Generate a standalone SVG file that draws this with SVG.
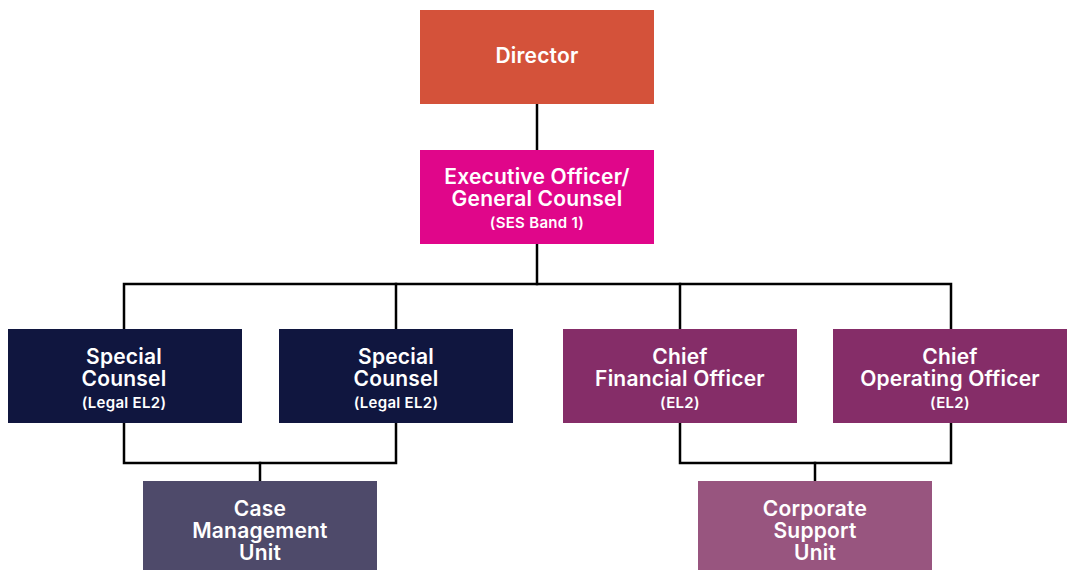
<svg xmlns="http://www.w3.org/2000/svg" width="1067" height="570" viewBox="0 0 1067 570">
  <style>
    .box { stroke: none; }
    .t { font-family: Inter, "Noto Sans", "Liberation Sans", sans-serif; font-weight: 600; fill: #ffffff; text-anchor: middle; }
    .big { font-size: 21px; letter-spacing: 0.2px; }
    .small { font-size: 15px; font-weight: 600; letter-spacing: 0.3px; }
    .wire { fill: none; stroke: #000000; stroke-width: 2.5; stroke-linejoin: miter; stroke-linecap: square; }
  </style>
  <rect width="1067" height="570" fill="#ffffff"/>

  <!-- connectors -->
  <g id="connectors">
    <path class="wire" d="M537 104 V150"/>
    <path class="wire" d="M537 244 V284"/>
    <path class="wire" d="M124 329 V284 H951 V329"/>
    <path class="wire" d="M396 284 V329"/>
    <path class="wire" d="M680 284 V329"/>
    <path class="wire" d="M124 423 V463 H396 V423"/>
    <path class="wire" d="M260 463 V481"/>
    <path class="wire" d="M680 423 V463 H951 V423"/>
    <path class="wire" d="M815 463 V481"/>
  </g>

  <g id="director">
    <rect class="box" x="420" y="10" width="234" height="94" fill="#D4523A"/>
    <text class="t big" x="537" y="63">Director</text>
  </g>

  <g id="executive-officer">
    <rect class="box" x="420" y="150" width="234" height="94" fill="#E0068A"/>
    <text class="t big" x="537" y="184">Executive Officer/</text>
    <text class="t big" x="537" y="206">General Counsel</text>
    <text class="t small" x="537" y="228">(SES Band 1)</text>
  </g>

  <g id="special-counsel-1">
    <rect class="box" x="8" y="329" width="234" height="94" fill="#10163F"/>
    <text class="t big" x="124" y="364">Special</text>
    <text class="t big" x="124" y="386">Counsel</text>
    <text class="t small" x="124" y="408">(Legal EL2)</text>
  </g>

  <g id="special-counsel-2">
    <rect class="box" x="279" y="329" width="234" height="94" fill="#10163F"/>
    <text class="t big" x="396" y="364">Special</text>
    <text class="t big" x="396" y="386">Counsel</text>
    <text class="t small" x="396" y="408">(Legal EL2)</text>
  </g>

  <g id="chief-financial-officer">
    <rect class="box" x="563" y="329" width="234" height="94" fill="#852D68"/>
    <text class="t big" x="680" y="364">Chief</text>
    <text class="t big" x="680" y="386">Financial Officer</text>
    <text class="t small" x="680" y="408">(EL2)</text>
  </g>

  <g id="chief-operating-officer">
    <rect class="box" x="833" y="329" width="234" height="94" fill="#852D68"/>
    <text class="t big" x="950" y="364">Chief</text>
    <text class="t big" x="950" y="386">Operating Officer</text>
    <text class="t small" x="950" y="408">(EL2)</text>
  </g>

  <g id="case-management-unit">
    <rect class="box" x="143" y="481" width="234" height="89" fill="#4E4A6A"/>
    <text class="t big" x="260" y="516">Case</text>
    <text class="t big" x="260" y="538">Management</text>
    <text class="t big" x="260" y="560">Unit</text>
  </g>

  <g id="corporate-support-unit">
    <rect class="box" x="698" y="481" width="234" height="89" fill="#98557F"/>
    <text class="t big" x="815" y="516">Corporate</text>
    <text class="t big" x="815" y="538">Support</text>
    <text class="t big" x="815" y="560">Unit</text>
  </g>
</svg>
